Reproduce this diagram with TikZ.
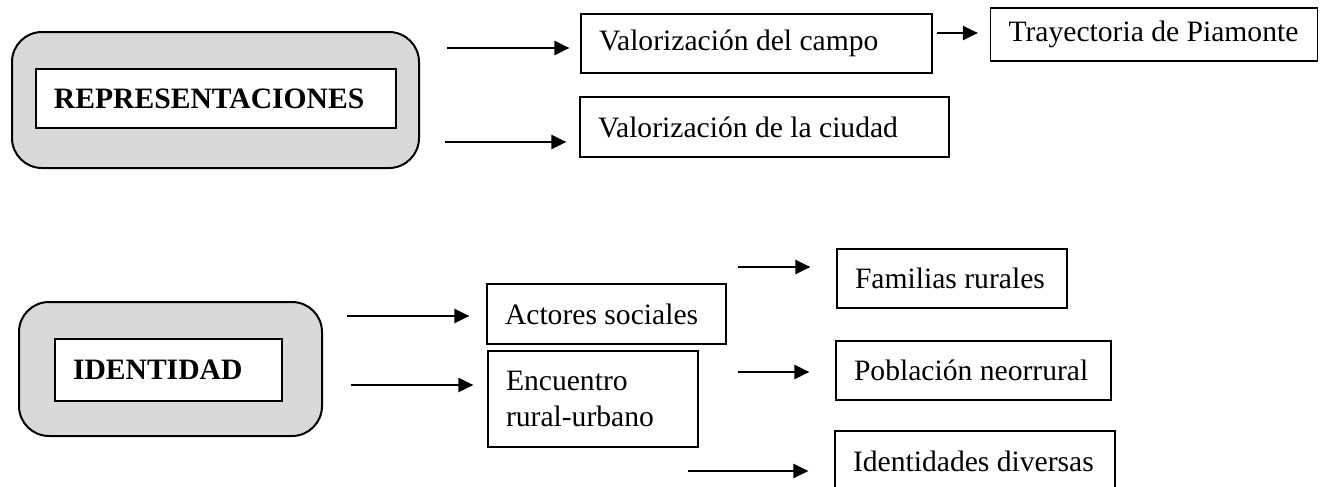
\documentclass[tikz,border=0pt]{standalone}
\usepackage{fontspec}
\setmainfont{Liberation Serif}
\usepackage{tikz}
\usetikzlibrary{positioning,arrows.meta,calc}

\begin{document}
\begin{tikzpicture}[x=0.5pt,y=-0.5pt,
  every node/.style={font=\fontsize{14.8}{18}\selectfont},
  leaf/.style={draw, line width=0.6pt, align=flush left, inner xsep=9pt, inner ysep=0pt},
  head/.style={leaf, font=\fontsize{14.8}{18}\selectfont\bfseries},
  shell/.style={draw, line width=1pt, fill=gray!30, rounded corners=15pt, inner sep=0pt},
  arr/.style={line width=1.2pt, -{Triangle[length=7.5pt,width=7pt]}}]
  \useasboundingbox (0,0) rectangle (1333,487);
  % first block
  \node[shell, minimum width=203.5pt, minimum height=68pt] (reprOut) at (215.5,100) {};
  \node[head, fill=white, text width=162pt, minimum height=29.5pt] (repr) at (216,98.5) {REPRESENTACIONES};
  \node[leaf, text width=157.5pt, minimum height=29.5pt] (campo) at (756.5,43.5) {Valorización del campo};
  \node[leaf, text width=145.5pt, minimum height=26.5pt] (trayec) at (1154,34.5) {Trayectoria de Piamonte};
  \node[leaf, text width=166.5pt, minimum height=30pt] (ciudad) at (764.5,127) {Valorización de la ciudad};
  % second block
  \node[shell, minimum width=151.5pt, minimum height=67pt] (identOut) at (170.5,369) {};
  \node[head, fill=white, text width=95.5pt, minimum height=31pt] (ident) at (168.5,370) {IDENTIDAD};
  \node[leaf, text width=101.5pt, minimum height=30pt] (actores) at (606.5,314) {Actores sociales};
  \node[leaf, text width=87pt, minimum height=48pt] (encuentro) at (593,399) {Encuentro\\rural-urbano};
  \node[leaf, text width=97pt, minimum height=29.5pt] (familias) at (952,278.5) {Familias rurales};
  \node[leaf, text width=119.5pt, minimum height=29.5pt] (poblacion) at (973.5,370.5) {Población neorrural};
  \node[leaf, text width=122pt, minimum height=30pt] (identid) at (975,461) {Identidades diversas};
  % arrow tails
  \coordinate (t1) at (447,48);
  \coordinate (t2) at (445,142);
  \coordinate (t3) at (937,33);
  \coordinate (t4) at (347,316);
  \coordinate (t5) at (351,385);
  \coordinate (t6) at (738,267);
  \coordinate (t7) at (738,372);
  \coordinate (t8) at (688,471);
  \draw[arr, shorten >=5.5pt] (t1) -- (t1 -| campo.west);
  \draw[arr, shorten >=6.5pt] (t2) -- (t2 -| ciudad.west);
  \draw[arr, shorten >=6pt] (t3) -- (t3 -| trayec.west);
  \draw[arr, shorten >=8.5pt] (t4) -- (t4 -| actores.west);
  \draw[arr, shorten >=7pt] (t5) -- (t5 -| encuentro.west);
  \draw[arr, shorten >=13pt] (t6) -- (t6 -| familias.west);
  \draw[arr, shorten >=13pt] (t7) -- (t7 -| poblacion.west);
  \draw[arr, shorten >=13pt] (t8) -- (t8 -| identid.west);
\end{tikzpicture}
\end{document}
